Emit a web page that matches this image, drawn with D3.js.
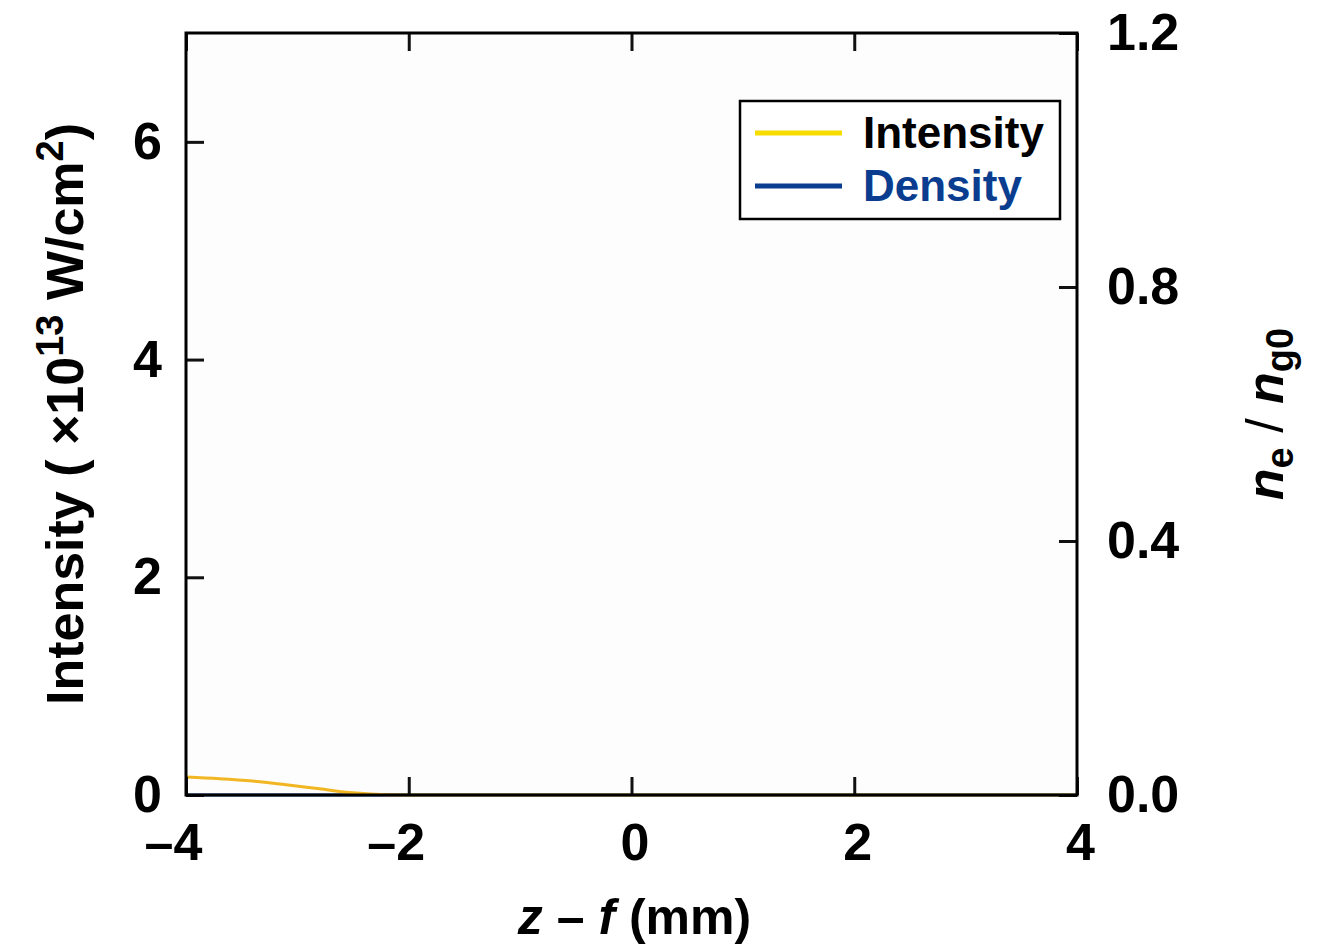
<!DOCTYPE html>
<html>
<head>
<meta charset="utf-8">
<script src="https://cdn.jsdelivr.net/npm/d3@7"></script>
<style>
  body { margin: 0; background: #fff; }
  svg text { font-family: "Liberation Sans", Arial, Helvetica, sans-serif; font-weight: bold; }
</style>
</head>
<body>
<div id="chart"></div>
<script>
// data
const zValues = [-4, -3.7, -3.4, -3.1, -2.8, -2.5, -2.2, -1.9, -1, 0, 1, 2, 3, 4];
const intensityValues = [0.165, 0.15, 0.128, 0.095, 0.057, 0.02, 0.003, 0, 0, 0, 0, 0, 0, 0];
const densityValues = [0, 0, 0, 0, 0, 0, 0, 0, 0, 0, 0, 0, 0, 0];
const xTicks = [-4, -2, 0, 2, 4];
const leftTicks = [0, 2, 4, 6];
const rightTicks = [0, 0.4, 0.8, 1.2];
const legendLabels = ["Intensity", "Density"];

const width = 1323, height = 948;
const margin = { top: 33, right: 246, bottom: 153, left: 186 };
const innerW = width - margin.left - margin.right;
const innerH = height - margin.top - margin.bottom;

const intensityColor = "#f1b622";
const densityColor = "#0a3d8f";

const svg = d3.select("#chart").append("svg")
    .attr("width", width)
    .attr("height", height);

const g = svg.append("g")
    .attr("transform", `translate(${margin.left},${margin.top})`);

const x = d3.scaleLinear().domain([-4, 4]).range([0, innerW]);
const yL = d3.scaleLinear().domain([0, 7]).range([innerH, 0]);
const yR = d3.scaleLinear().domain([0, 1.2]).range([innerH, 0]);

const fmtX = d => d < 0 ? "\u2013" + Math.abs(d) : String(d);

// plot background
g.append("rect")
    .attr("width", innerW)
    .attr("height", innerH)
    .attr("fill", "#fdfdfd");

// curves
const intensityLine = d3.line()
    .x((d, i) => x(zValues[i]))
    .y(d => yL(d))
    .curve(d3.curveMonotoneX);

const densityLine = d3.line()
    .x((d, i) => x(zValues[i]))
    .y(d => yR(d))
    .curve(d3.curveMonotoneX);

g.append("path")
    .datum(densityValues)
    .attr("d", densityLine)
    .attr("fill", "none")
    .attr("stroke", densityColor)
    .attr("stroke-width", 3);

g.append("path")
    .datum(intensityValues)
    .attr("d", intensityLine)
    .attr("fill", "none")
    .attr("stroke", intensityColor)
    .attr("stroke-width", 3);

// axes with inward ticks
const tickLen = 18;
const styleAxis = sel => {
    sel.select(".domain").remove();
    sel.selectAll(".tick line").attr("stroke", "#111").attr("stroke-width", 3);
    sel.selectAll(".tick text").attr("fill", "#000").style("font-size", "52px");
};

g.append("g")
    .attr("transform", `translate(0,${innerH})`)
    .call(d3.axisBottom(x).tickValues(xTicks).tickSize(-tickLen).tickPadding(28).tickFormat(fmtX))
    .call(styleAxis)
    .selectAll(".tick text")
    .attr("dx", d => d < 0 ? -13 : 3);

g.append("g")
    .call(d3.axisTop(x).tickValues(xTicks).tickSize(-tickLen).tickFormat(""))
    .call(styleAxis);

g.append("g")
    .call(d3.axisLeft(yL).tickValues(leftTicks).tickSize(-tickLen).tickPadding(24).tickFormat(d3.format("d")))
    .call(styleAxis);

g.append("g")
    .attr("transform", `translate(${innerW},0)`)
    .call(d3.axisRight(yR).tickValues(rightTicks).tickSize(-tickLen).tickPadding(30).tickFormat(d3.format(".1f")))
    .call(styleAxis);

// frame
g.append("rect")
    .attr("width", innerW)
    .attr("height", innerH)
    .attr("fill", "none")
    .attr("stroke", "#000")
    .attr("stroke-width", 3);

// x axis title
const xTitle = svg.append("text")
    .attr("x", margin.left + innerW / 2 + 3)
    .attr("y", 934)
    .attr("text-anchor", "middle")
    .style("font-size", "50px");
xTitle.append("tspan").style("font-style", "italic").text("z");
xTitle.append("tspan").text(" \u2013 ");
xTitle.append("tspan").style("font-style", "italic").text("f");
xTitle.append("tspan").text(" (mm)");

// left y title
const yTitle = svg.append("text")
    .attr("transform", `translate(83,${margin.top + 381}) rotate(-90)`)
    .attr("text-anchor", "middle")
    .style("font-size", "52px");
yTitle.append("tspan").text("Intensity ( \u00d710");
yTitle.append("tspan").attr("dy", -20).style("font-size", "38px").text("13");
yTitle.append("tspan").attr("dy", 20).text(" W/cm");
yTitle.append("tspan").attr("dy", -20).style("font-size", "38px").text("2");
yTitle.append("tspan").attr("dy", 20).text(")");

// right y title
const rTitle = svg.append("text")
    .attr("transform", `translate(1283,${margin.top + 381}) rotate(-90)`)
    .attr("text-anchor", "middle")
    .style("font-size", "52px");
rTitle.append("tspan").style("font-style", "italic").text("n");
rTitle.append("tspan").attr("dy", 10).style("font-size", "38px").text("e");
rTitle.append("tspan").attr("dy", -10).style("font-weight", "normal").text(" / ");
rTitle.append("tspan").style("font-style", "italic").text("n");
rTitle.append("tspan").attr("dy", 10).style("font-size", "38px").text("g0");

// legend
const legend = svg.append("g").attr("transform", "translate(740,101)");
legend.append("rect")
    .attr("width", 320)
    .attr("height", 118)
    .attr("fill", "#fff")
    .attr("stroke", "#000")
    .attr("stroke-width", 2.5);

const legendColors = [["#f7dc00", "#000"], [densityColor, densityColor]];
legendLabels.forEach((label, i) => {
    const yy = 32 + i * 53;
    legend.append("line")
        .attr("x1", 15).attr("x2", 102)
        .attr("y1", yy).attr("y2", yy)
        .attr("stroke", legendColors[i][0])
        .attr("stroke-width", 5);
    legend.append("text")
        .attr("x", 123)
        .attr("y", yy + 15)
        .attr("fill", legendColors[i][1])
        .style("font-size", "44px")
        .text(label);
});
</script>
</body>
</html>
